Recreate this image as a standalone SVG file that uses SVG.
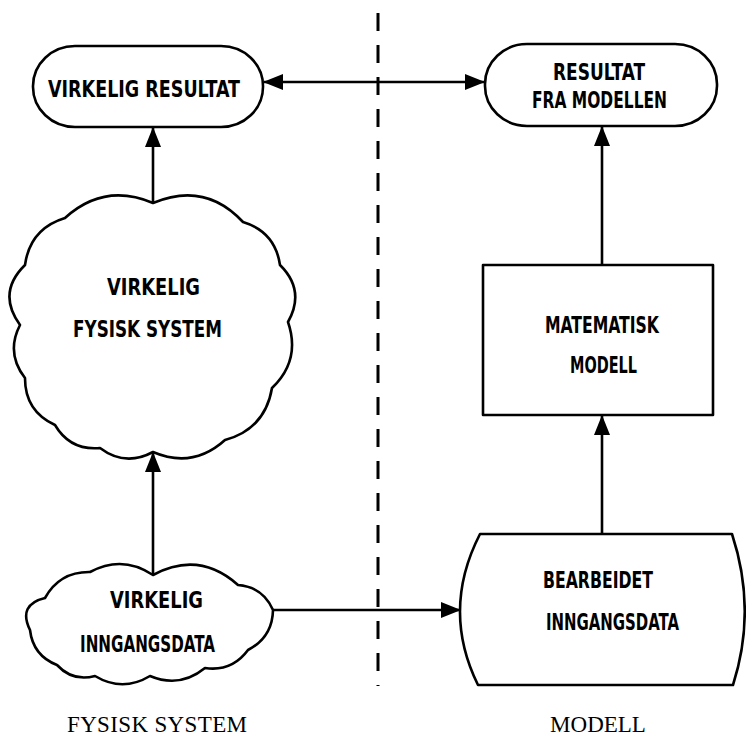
<svg xmlns="http://www.w3.org/2000/svg" width="746" height="736" viewBox="0 0 746 736">
<defs>
<marker id="ah" markerUnits="userSpaceOnUse" markerWidth="20" markerHeight="16" refX="19" refY="8" orient="auto-start-reverse" viewBox="0 0 20 16">
<path d="M0,0 L20,8 L0,16 Z" fill="#000"/>
</marker>
<style>
.shape{fill:#fff;stroke:#000;stroke-width:2.6;stroke-linejoin:round}
.lbl{font-family:"DejaVu Sans Condensed","DejaVu Sans",sans-serif;font-stretch:condensed;font-weight:bold;font-size:23px;fill:#000;text-anchor:middle}
.cap{font-family:"Liberation Serif","Times New Roman",serif;font-size:23px;fill:#000;text-anchor:middle}
.con{fill:none;stroke:#000;stroke-width:2.6}
</style>
</defs>
<rect width="746" height="736" fill="#fff"/>
<line x1="378" y1="13" x2="378" y2="686" stroke="#000" stroke-width="3" stroke-dasharray="18 14"/>
<g id="virkelig-resultat">
<rect class="shape" x="33" y="46" width="230" height="81" rx="42" ry="40"/>
<text class="lbl" x="144" y="97" textLength="192" lengthAdjust="spacingAndGlyphs">VIRKELIG RESULTAT</text>
</g>
<g id="resultat-modellen">
<rect class="shape" x="485" y="44" width="232" height="82" rx="42" ry="40"/>
<text class="lbl" x="599" y="80" textLength="92" lengthAdjust="spacingAndGlyphs">RESULTAT</text>
<text class="lbl" x="599.5" y="108" textLength="135" lengthAdjust="spacingAndGlyphs">FRA MODELLEN</text>
</g>
<g id="fysisk-system-cloud">
<path class="shape" d="M153,203 Q205,181 243,222 Q275.1,231.7 280,265 Q305.8,290.4 288,322 Q301.1,360.1 272,388 Q265.1,429 225,440 Q192.8,469.1 153,452 Q125.2,467 100,448 Q70.2,450.8 55,425 Q24.9,411.1 25,378 Q5.6,353.1 20,325 Q-3.4,292.8 25,265 Q30,228.7 65,218 Q104.2,182.3 153,203 Z"/>
<text class="lbl" x="153.5" y="295" textLength="93" lengthAdjust="spacingAndGlyphs">VIRKELIG</text>
<text class="lbl" x="147.5" y="337" textLength="149" lengthAdjust="spacingAndGlyphs">FYSISK SYSTEM</text>
</g>
<g id="inngangsdata-cloud">
<path class="shape" d="M153,575 Q199,550.2 238,585 Q263,587 273,610 Q272.4,637.4 248,650 Q231.9,671.9 205,668 Q179.9,688.5 150,676 Q122.5,692.5 95,676 Q72.7,682 57,665 Q33,655.6 30,630 Q17.6,604.6 45,598 Q59.7,571.5 90,572 Q122.4,554.5 153,575 Z"/>
<text class="lbl" x="156.5" y="608" textLength="93" lengthAdjust="spacingAndGlyphs">VIRKELIG</text>
<text class="lbl" x="147.5" y="652" textLength="135" lengthAdjust="spacingAndGlyphs">INNGANGSDATA</text>
</g>
<g id="matematisk-modell">
<rect class="shape" x="483" y="265" width="230" height="150"/>
<text class="lbl" x="602" y="333" textLength="114" lengthAdjust="spacingAndGlyphs">MATEMATISK</text>
<text class="lbl" x="603.5" y="373" textLength="67" lengthAdjust="spacingAndGlyphs">MODELL</text>
</g>
<g id="bearbeidet-inngangsdata">
<path class="shape" d="M480,534 L732,534 Q757,610 733,685 L478,685 Q441,610 480,534 Z"/>
<text class="lbl" x="598" y="588" textLength="110" lengthAdjust="spacingAndGlyphs">BEARBEIDET</text>
<text class="lbl" x="612.5" y="630" textLength="133" lengthAdjust="spacingAndGlyphs">INNGANGSDATA</text>
</g>
<g id="connectors">
<line class="con" x1="264" y1="82" x2="484" y2="82" marker-start="url(#ah)" marker-end="url(#ah)"/>
<line class="con" x1="153" y1="203" x2="153" y2="128" marker-end="url(#ah)"/>
<line class="con" x1="153" y1="575" x2="153" y2="453" marker-end="url(#ah)"/>
<line class="con" x1="273" y1="610" x2="460" y2="610" marker-end="url(#ah)"/>
<line class="con" x1="602" y1="534" x2="602" y2="416" marker-end="url(#ah)"/>
<line class="con" x1="602" y1="265" x2="602" y2="127" marker-end="url(#ah)"/>
</g>
<g id="captions">
<text class="cap" x="157" y="732" textLength="180">FYSISK SYSTEM</text>
<text class="cap" x="598" y="732">MODELL</text>
</g>
</svg>
